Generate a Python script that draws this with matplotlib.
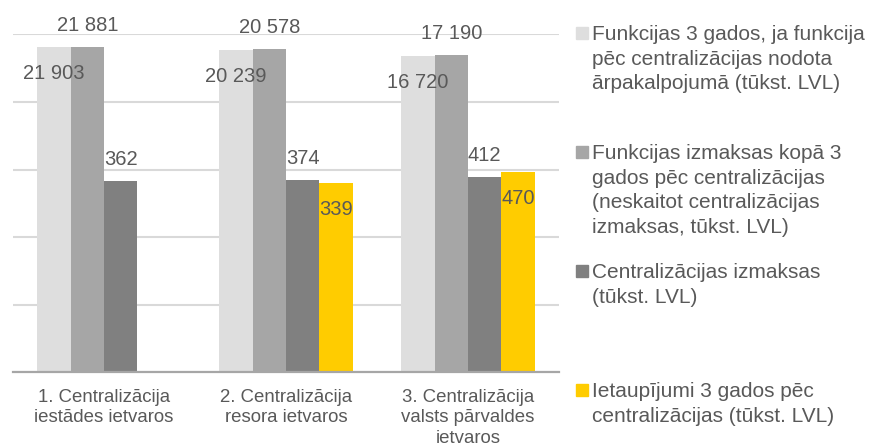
import numpy as np
import matplotlib
matplotlib.use("Agg")
import matplotlib.pyplot as plt
from matplotlib.ticker import FixedLocator, NullLocator
from matplotlib.patches import Rectangle

plt.rcParams['font.family'] = ['Liberation Sans', 'DejaVu Sans']

# Dati (tūkst. LVL)
categories = ["1. Centralizācija\niestādes ietvaros",
              "2. Centralizācija\nresora ietvaros",
              "3. Centralizācija\nvalsts pārvaldes\nietvaros"]
outsourced = [21903, 20239, 16720]
total_after = [21881, 20578, 17190]
central_cost = [362, 374, 412]
savings = [np.nan, 339, 470]

series_names = [
    "Funkcijas 3 gados, ja funkcija\npēc centralizācijas nodota\nārpakalpojumā (tūkst. LVL)",
    "Funkcijas izmaksas kopā 3\ngados pēc centralizācijas\n(neskaitot centralizācijas\nizmaksas, tūkst. LVL)",
    "Centralizācijas izmaksas\n(tūkst. LVL)",
    "Ietaupījumi 3 gados pēc\ncentralizācijas (tūkst. LVL)",
]
colors = ['#DEDEDE', '#A6A6A6', '#808080', '#FFCC00']
label_pos = ['inside', 'outside', 'outside', 'inside']
TEXT = '#595959'

W, H = 870, 444
fig = plt.figure(figsize=(W / 100, H / 100), dpi=100)
ax = fig.add_axes([13 / W, 1 - 372.3 / H, 546 / W, 338 / H])

x = np.arange(len(categories))
width = 0.183


def fmt(v):
    return f"{int(v):,}".replace(",", " ")


for i, vals in enumerate([outsourced, total_after, central_cost, savings]):
    offs = x + (i - 1.5) * width
    bars = ax.bar(offs, vals, width, color=colors[i], zorder=2)
    for b, v in zip(bars, vals):
        if np.isnan(v):
            continue
        dy = -32 if label_pos[i] == 'inside' else 16
        ax.annotate(fmt(v), (b.get_x() + b.get_width() / 2, v),
                    xytext=(0, dy), textcoords='offset pixels',
                    ha='center', va='baseline', fontsize=14.5,
                    color=TEXT, zorder=3)

# logaritmiskā ass ar bāzi 8 (kā oriģinālā)
ax.set_yscale('log', base=8)
ax.set_ylim(1, 8 ** 5)
ax.set_xlim(-0.5, 2.5)
ax.yaxis.set_major_locator(FixedLocator(8.0 ** np.arange(6)))
ax.yaxis.set_minor_locator(NullLocator())
ax.tick_params(axis='y', length=0, labelleft=False)
ax.grid(axis='y', color='#D9D9D9', lw=1.5)
ax.set_axisbelow(True)

for s in ['left', 'right', 'top']:
    ax.spines[s].set_visible(False)
ax.spines['bottom'].set_color('#A6A6A6')
ax.spines['bottom'].set_linewidth(1.6)

ax.set_xticks(x)
ax.set_xticklabels(categories, fontsize=13.4, color=TEXT, linespacing=1.27)
ax.tick_params(axis='x', length=0, pad=12)

# Leģenda
for k, (name, c) in enumerate(zip(series_names, colors)):
    top = 27 + k * 118.9
    fig.patches.append(Rectangle((576 / W, 1 - (top + 12) / H), 12 / W, 12 / H,
                                 transform=fig.transFigure, color=c))
    fig.text(591.7 / W, 1 - (top - 1.5) / H, name, va='top', ha='left',
             fontsize=15, color=TEXT, linespacing=1.36)

fig.savefig('out.png', dpi=100)
